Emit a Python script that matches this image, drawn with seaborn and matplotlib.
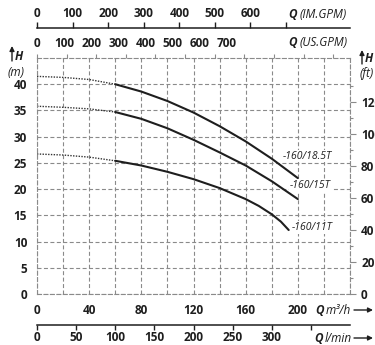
import numpy as np
import pandas as pd
import matplotlib
matplotlib.use("Agg")
from matplotlib import pyplot as plt
import seaborn as sns

# pump curves: flow in m3/h, head in m
q_18 = [0, 20, 40, 60, 80, 100, 120, 140, 160, 180, 200]
h_18 = [41.5, 41.3, 40.9, 40.0, 38.6, 36.8, 34.6, 32.0, 29.1, 25.8, 22.1]
q_15 = [0, 20, 40, 60, 80, 100, 120, 140, 160, 180, 200]
h_15 = [35.8, 35.6, 35.3, 34.7, 33.4, 31.6, 29.4, 27.0, 24.5, 21.5, 18.1]
q_11 = [0, 20, 40, 60, 80, 100, 120, 140, 160, 170, 180, 187, 193]
h_11 = [26.7, 26.5, 26.1, 25.4, 24.5, 23.3, 21.9, 20.2, 18.1, 16.8, 15.2, 13.8, 12.2]
models = ['-160/18.5T', '-160/15T', '-160/11T']
dotted_until = 60  # curves are dotted below this flow

# tick labels
m3h_labels = [0, 40, 80, 120, 160, 200]
head_m_labels = [0, 5, 10, 15, 20, 25, 30, 35, 40]
head_ft_labels = [0, 20, 40, 60, 80, 100, 120]
us_gpm_labels = [0, 100, 200, 300, 400, 500, 600, 700]
im_gpm_labels = [0, 100, 200, 300, 400, 500, 600]
lmin_labels = [0, 50, 100, 150, 200, 250, 300]

rows = []
for name, qs, hs in zip(models, [q_18, q_15, q_11], [h_18, h_15, h_11]):
    for q, h in zip(qs, hs):
        if q <= dotted_until:
            rows.append((name, 'dot', q, h))
        if q >= dotted_until:
            rows.append((name, 'solid', q, h))
df = pd.DataFrame(rows, columns=['model', 'part', 'Q', 'H'])

sns.set_style("white")
plt.rcParams['font.family'] = ['Open Sans', 'DejaVu Sans']

txt = '#1e1e1e'
grid_c = '#8a8a8a'
dash = (0, (3.6, 2.2))
fs = 8.5

W, HH = 375, 345
L, R, T, B = 37, 350, 58, 294


def fx(x):
    return x / W


def fy(y):
    return 1 - y / HH


fig = plt.figure(figsize=(3.75, 3.45), dpi=100)
ax = fig.add_axes([fx(L), fy(B), (R - L) / W, (B - T) / HH])

sns.lineplot(data=df[df['part'] == 'dot'], x='Q', y='H', units='model',
             estimator=None, color='#333333', lw=1.0, ls=(0, (1, 1)), ax=ax)
sns.lineplot(data=df[df['part'] == 'solid'], x='Q', y='H', units='model',
             estimator=None, color=txt, lw=1.5, ax=ax)

ax.set_xlim(0, 240)
ax.set_ylim(0, 45)
ax.set_xlabel('')
ax.set_ylabel('')
xt = np.arange(0, 241, 20)
ax.set_xticks(xt, [str(v) if v in m3h_labels else '' for v in xt])
ax.set_yticks(head_m_labels, [str(v) for v in head_m_labels])
ax.grid(True, ls=dash, color=grid_c, lw=0.8)
for s in ax.spines.values():
    s.set_linestyle(dash)
    s.set_color(grid_c)
    s.set_linewidth(0.8)
ax.tick_params(axis='x', direction='out', length=3, width=0.8, color=grid_c,
               pad=4, labelsize=fs, labelcolor=txt)
ax.tick_params(axis='y', direction='out', length=4, width=0.8, color=grid_c,
               pad=3, labelsize=fs, labelcolor=txt)
for t in ax.get_xticklabels() + ax.get_yticklabels():
    t.set_fontweight('bold')

# head in feet
sec_ft = ax.secondary_yaxis('right', functions=(lambda m: m * 3.2808, lambda f: f / 3.2808))
sec_ft.set_yticks(head_ft_labels, [str(v) for v in head_ft_labels])
sec_ft.set_yticks(np.arange(10, 140, 20), minor=True)
sec_ft.tick_params(which='major', direction='out', length=4, width=0.8, color=grid_c,
                   pad=4, labelsize=fs, labelcolor=txt)
sec_ft.tick_params(which='minor', direction='out', length=2.5, width=0.8, color=grid_c)
sec_ft.spines['right'].set_visible(False)
for t in sec_ft.get_yticklabels():
    t.set_fontweight('bold')

# US gallons per minute, ticks on the frame
sec_us = ax.secondary_xaxis('top', functions=(lambda q: q / 0.22712, lambda g: g * 0.22712))
sec_us.set_xticks(np.arange(0, 1001, 100), [])
sec_us.tick_params(direction='out', length=3, width=0.8, color=grid_c)
sec_us.spines['top'].set_visible(False)
for i, v in enumerate(us_gpm_labels):
    ax.text(i * 20.8, 1 + 14 / (B - T), str(v), transform=ax.get_xaxis_transform(),
            ha='center', va='center', fontsize=fs, fontweight='bold', color=txt)

# imperial gallons per minute
sec_im = ax.secondary_xaxis(1 + (T - 28) / (B - T),
                            functions=(lambda q: q / 0.27277, lambda g: g * 0.27277))
sec_im.set_xticks(np.arange(0, 701, 100), [str(v) for v in im_gpm_labels] + [''])
sec_im.tick_params(direction='out', length=4, width=1.0, color=txt, pad=2,
                   labelsize=fs, labelcolor=txt)
sec_im.spines['top'].set_color(txt)
sec_im.spines['top'].set_linewidth(1.1)
for t in sec_im.get_xticklabels():
    t.set_fontweight('bold')

# litres per minute
sec_l = ax.secondary_xaxis(-(325 - B) / (B - T), functions=(lambda q: q / 0.6, lambda v: v * 0.6))
sec_l.set_xticks(np.arange(0, 351, 50), [str(v) for v in lmin_labels] + [''])
sec_l.tick_params(direction='out', length=3.5, width=1.0, color=txt, pad=1,
                  labelsize=fs, labelcolor=txt)
sec_l.spines['bottom'].set_color(txt)
sec_l.spines['bottom'].set_linewidth(1.1)
for t in sec_l.get_xticklabels():
    t.set_fontweight('bold')

# curve names
for name, q, h in zip(models, [188.5, 194, 195], [26.3, 20.6, 12.7]):
    ax.text(q, h, name, fontsize=7.5, style='italic', color=txt, va='center', ha='left',
            bbox=dict(facecolor='white', edgecolor='none', pad=0.6))

# unit captions
def unit(x, y, q, rest, gap=12):
    fig.text(fx(x), fy(y), q, fontsize=fs, fontweight='bold', style='italic',
             color=txt, ha='left', va='center')
    fig.text(fx(x + gap), fy(y), rest, fontsize=fs, style='italic', color=txt,
             ha='left', va='center')


unit(288, 15, 'Q', '(IM.GPM)')
unit(288, 43, 'Q', '(US.GPM)')
unit(315, 310, 'Q', 'm³/h', gap=11)
unit(314, 338, 'Q', 'l/min', gap=11)

fig.text(fx(15), fy(57), 'H', fontsize=fs, fontweight='bold', style='italic', color=txt,
         ha='left', va='center')
fig.text(fx(16), fy(73), '(m)', fontsize=fs, style='italic', color=txt, ha='center', va='center')
fig.text(fx(365), fy(59), 'H', fontsize=fs, fontweight='bold', style='italic', color=txt,
         ha='left', va='center')
fig.text(fx(367), fy(73), '(ft)', fontsize=fs, style='italic', color=txt, ha='center', va='center')

arrows = [((354, 310), (373, 310)), ((354, 338), (373, 338)),
          ((12, 61), (12, 46)), ((362, 64), (362, 50))]
for (x0, y0), (x1, y1) in arrows:
    ax.annotate('', xy=(fx(x1), fy(y1)), xytext=(fx(x0), fy(y0)),
                xycoords='figure fraction', textcoords='figure fraction',
                annotation_clip=False,
                arrowprops=dict(arrowstyle='-|>', color=txt, lw=1.0,
                                mutation_scale=7, shrinkA=0, shrinkB=0))

fig.savefig('out.png', dpi=100)
